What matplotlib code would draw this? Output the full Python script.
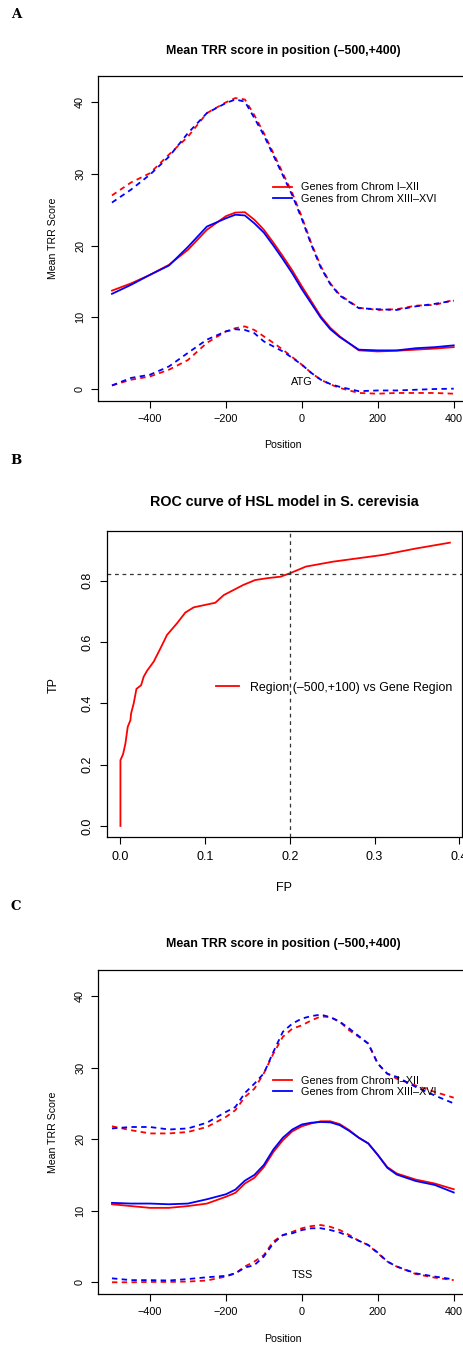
import numpy as np
import matplotlib
matplotlib.use("Agg")
import matplotlib.pyplot as plt

plt.rcParams["font.family"] = ["Liberation Sans", "DejaVu Sans"]

W, H = 464, 1347

# ---- panel A: mean TRR score around ATG ----
xA = [-500, -450, -400, -350, -300, -250, -200, -175, -150, -125, -100, -75,
      -50, -25, 0, 25, 50, 75, 100, 150, 200, 250, 300, 350, 400]
a_red_mid = [13.7, 14.7, 15.9, 17.3, 19.4, 22.2, 24.1, 24.6, 24.65, 23.6, 22.2, 20.4,
             18.5, 16.5, 14.3, 12.2, 10.1, 8.5, 7.3, 5.35, 5.2, 5.3, 5.45, 5.6, 5.8]
a_blue_mid = [13.25, 14.5, 15.9, 17.2, 19.8, 22.65, 23.8, 24.3, 24.2, 23.1, 21.8, 20.0,
              18.1, 16.1, 13.9, 11.9, 9.9, 8.3, 7.2, 5.45, 5.35, 5.35, 5.65, 5.8, 6.05]
a_red_up = [27.0, 28.8, 30.1, 32.7, 35.2, 38.5, 40.0, 40.6, 40.4, 38.2, 35.7, 32.9,
            30.1, 27.3, 24.0, 20.3, 17.1, 14.7, 13.1, 11.3, 11.0, 11.1, 11.6, 11.7, 12.4]
a_blue_up = [26.0, 27.8, 29.9, 32.4, 35.7, 38.5, 39.9, 40.4, 40.1, 37.8, 35.4, 32.6,
             29.8, 27.0, 23.7, 20.1, 16.9, 14.6, 13.0, 11.25, 11.1, 11.0, 11.5, 11.85, 12.3]
a_red_lo = [0.45, 1.25, 1.7, 2.65, 4.0, 6.4, 8.0, 8.45, 8.7, 8.2, 7.3, 6.4,
            5.45, 4.4, 3.35, 2.2, 1.25, 0.6, 0.1, -0.6, -0.7, -0.6, -0.6, -0.6, -0.7]
a_blue_lo = [0.45, 1.5, 1.95, 3.1, 5.0, 6.85, 8.0, 8.3, 8.2, 7.75, 6.6, 5.9,
             5.2, 4.3, 3.35, 2.2, 1.25, 0.65, 0.25, -0.35, -0.25, -0.25, -0.15, -0.05, 0.0]

# ---- panel B: ROC curve ----
fp = [0.0, 0.0, 0.0031, 0.0059, 0.0086, 0.0118, 0.0126, 0.0157, 0.0189, 0.0244,
      0.0275, 0.0314, 0.0393, 0.0472, 0.055, 0.0668, 0.0766, 0.0865, 0.112, 0.122,
      0.145, 0.159, 0.173, 0.189, 0.2, 0.219, 0.251, 0.31, 0.349, 0.389]
tp = [0.0, 0.2145, 0.234, 0.269, 0.323, 0.345, 0.367, 0.40, 0.447, 0.459,
      0.487, 0.506, 0.536, 0.579, 0.623, 0.661, 0.696, 0.713, 0.728, 0.753,
      0.786, 0.802, 0.808, 0.813, 0.824, 0.846, 0.862, 0.884, 0.905, 0.924]
cut_fp, cut_tp = 0.2, 0.821

# ---- panel C: mean TRR score around TSS ----
xC = [-500, -450, -400, -350, -300, -250, -200, -175, -150, -125, -100, -75, -50, -25,
      0, 25, 50, 75, 100, 125, 150, 175, 200, 225, 250, 300, 350, 400]
c_red_mid = [10.9, 10.65, 10.4, 10.4, 10.65, 11.0, 11.95, 12.5, 13.8, 14.6, 16.1, 18.2, 19.85, 21.1,
             21.8, 22.2, 22.5, 22.5, 22.1, 21.25, 20.2, 19.4, 17.8, 16.1, 15.2, 14.35, 13.8, 13.0]
c_blue_mid = [11.1, 11.0, 11.0, 10.9, 11.0, 11.6, 12.3, 12.95, 14.2, 15.0, 16.4, 18.55, 20.2, 21.35,
              22.05, 22.3, 22.4, 22.35, 21.95, 21.15, 20.2, 19.4, 17.8, 16.0, 15.05, 14.15, 13.6, 12.55]
c_red_up = [21.8, 21.25, 20.8, 20.8, 21.0, 21.7, 23.1, 24.05, 25.9, 27.05, 29.2, 31.95, 34.3, 35.45,
            35.9, 36.6, 37.15, 37.05, 36.4, 35.2, 34.3, 33.35, 30.55, 29.15, 28.45, 27.5, 26.6, 25.8]
c_blue_up = [21.5, 21.7, 21.7, 21.35, 21.5, 22.3, 23.8, 24.5, 26.45, 27.75, 29.2, 32.2, 35.0, 36.15,
             36.85, 37.2, 37.4, 37.05, 36.4, 35.45, 34.4, 33.35, 30.55, 29.15, 28.7, 27.3, 26.1, 25.0]
c_red_lo = [0.0, 0.0, 0.05, 0.05, 0.1, 0.25, 0.8, 1.25, 2.2, 2.9, 3.8, 5.7, 6.6, 7.05,
            7.55, 7.85, 8.0, 7.75, 7.3, 6.6, 5.8, 5.2, 4.05, 2.9, 2.2, 1.15, 0.65, 0.3]
c_blue_lo = [0.55, 0.3, 0.3, 0.25, 0.45, 0.7, 0.9, 1.25, 2.05, 2.4, 3.6, 5.45, 6.6, 6.85,
             7.3, 7.55, 7.55, 7.3, 6.95, 6.4, 5.8, 5.2, 4.15, 2.9, 2.2, 1.25, 0.8, 0.4]

legend_labels = ["Genes from Chrom I\u2013XII", "Genes from Chrom XIII\u2013XVI"]
title_trr = "Mean TRR score in position (\u2013500,+400)"

RED, BLUE = "#FF0000", "#0000FF"
DASH = (0, (3.0, 2.4))
LW = 1.3
FS = 7.8      # ticks, legend
FS_LAB = 7.6  # axis labels
FS_TITLE = 8.9
# panel B was drawn at a smaller device size, so its text is larger
FSB = 9.0
FSB_TITLE = 10.3


def px_axes(fig, left, top, right, bottom):
    return fig.add_axes([left / W, 1 - bottom / H, (right - left) / W, (bottom - top) / H])


def ftext(fig, x, y, s, **kw):
    fig.text(x / W, 1 - y / H, s, ha="center", va="center", **kw)


def style(ax, fs=FS, pad=4.5):
    for sp in ax.spines.values():
        sp.set_linewidth(0.9)
    ax.tick_params(direction="out", length=5, width=0.8, labelsize=fs, pad=pad)
    for lab in ax.get_yticklabels():
        lab.set_rotation(90)
        lab.set_va("center")


def trr_panel(fig, top, bottom, x, series, mark):
    ax = px_axes(fig, 98.3, top, 467.4, bottom)
    rm, bm, ru, bu, rl, bl = series
    ax.plot(x, rm, color=RED, lw=LW, label=legend_labels[0])
    ax.plot(x, bm, color=BLUE, lw=LW, label=legend_labels[1])
    for r, b in ((ru, bu), (rl, bl)):
        ax.plot(x, r, color=RED, lw=LW, ls=DASH)
        ax.plot(x, b, color=BLUE, lw=LW, ls=DASH)
    ax.set_xlim(-536, 436)
    ax.set_ylim(-1.68, 43.68)
    ax.set_xticks([-400, -200, 0, 200, 400])
    ax.set_yticks([0, 10, 20, 30, 40])
    ax.text(0, 1.0, mark, ha="center", va="center", fontsize=FS)
    ax.legend(loc="center left", bbox_to_anchor=(0.4733, 0.6397), frameon=False,
              fontsize=FS, handlelength=1.8, handletextpad=0.8, labelspacing=0.1,
              borderpad=0, borderaxespad=0)
    style(ax)
    return ax


fig = plt.figure(figsize=(W / 100, H / 100), dpi=100)

# A
trr_panel(fig, 76, 400.7, xA,
          (a_red_mid, a_blue_mid, a_red_up, a_blue_up, a_red_lo, a_blue_lo), "ATG")
ftext(fig, 16, 14, "A", family="DejaVu Serif", fontweight="bold", fontsize=9.5)
ftext(fig, 283, 50.7, title_trr, fontweight="bold", fontsize=FS_TITLE)
ftext(fig, 53, 238.3, "Mean TRR Score", rotation=90, fontsize=FS_LAB)
ftext(fig, 283, 445, "Position", fontsize=FS_LAB)

# B
axb = px_axes(fig, 107.3, 531, 462.2, 837.3)
axb.plot(fp, tp, color=RED, lw=LW, label="Region (\u2013500,+100) vs Gene Region")
axb.axhline(cut_tp, color="#333333", lw=0.9, ls=(0, (3, 3)))
axb.axvline(cut_fp, color="#333333", lw=0.9, ls=(0, (3, 3)))
axb.set_xlim(-0.0155, 0.4035)
axb.set_ylim(-0.037, 0.962)
axb.set_xticks([0.0, 0.1, 0.2, 0.3, 0.4])
axb.set_xticklabels(["0.0", "0.1", "0.2", "0.3", "0.4"])
axb.set_yticks([0.0, 0.2, 0.4, 0.6, 0.8])
axb.set_yticklabels(["0.0", "0.2", "0.4", "0.6", "0.8"])
axb.legend(loc="center left", bbox_to_anchor=(0.3063, 0.4884), frameon=False,
           fontsize=8.9, handlelength=1.83, handletextpad=0.9,
           borderpad=0, borderaxespad=0)
style(axb, fs=FSB, pad=5)
ftext(fig, 16, 460, "B", family="DejaVu Serif", fontweight="bold", fontsize=9.5)
ftext(fig, 284.7, 502, "ROC curve of HSL model in S. cerevisia", fontweight="bold",
      fontsize=FSB_TITLE)
ftext(fig, 54, 685, "TP", rotation=90, fontsize=FSB)
ftext(fig, 284, 888, "FP", fontsize=FSB)

# C
trr_panel(fig, 969.7, 1294.3, xC,
          (c_red_mid, c_blue_mid, c_red_up, c_blue_up, c_red_lo, c_blue_lo), "TSS")
ftext(fig, 16, 906, "C", family="DejaVu Serif", fontweight="bold", fontsize=9.5)
ftext(fig, 283, 943.7, title_trr, fontweight="bold", fontsize=FS_TITLE)
ftext(fig, 53, 1132, "Mean TRR Score", rotation=90, fontsize=FS_LAB)
ftext(fig, 283, 1339, "Position", fontsize=FS_LAB)

fig.savefig("out.png", dpi=100)
